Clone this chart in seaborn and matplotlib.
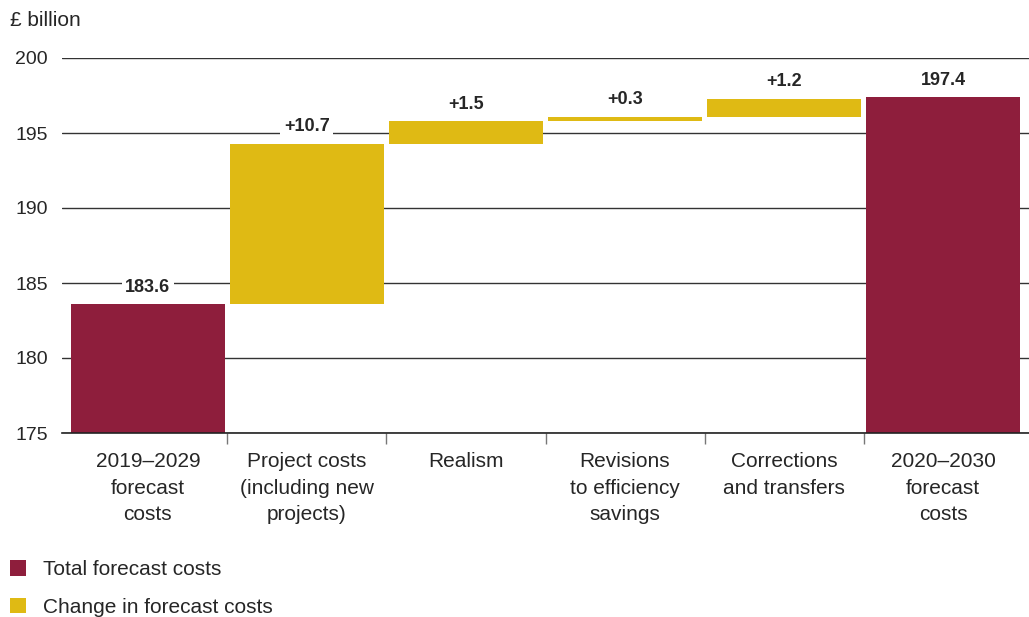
import matplotlib
matplotlib.use("Agg")
import matplotlib.pyplot as plt
from matplotlib.patches import Patch
from matplotlib.ticker import FixedLocator
import numpy as np
import pandas as pd
import seaborn as sns

# Waterfall data (£ billion)
categories = [
    "2019–2029\nforecast\ncosts",
    "Project costs\n(including new\nprojects)",
    "Realism",
    "Revisions\nto efficiency\nsavings",
    "Corrections\nand transfers",
    "2020–2030\nforecast\ncosts",
]
start_total = 183.6
changes = [10.7, 1.5, 0.3, 1.2]
end_total = 197.4
value_labels = ["183.6", "+10.7", "+1.5", "+0.3", "+1.2", "197.4"]
kinds = ["Total forecast costs"] + ["Change in forecast costs"] * 4 + ["Total forecast costs"]

# Build bar heights and bottoms from the running total
bottoms = [0.0]
heights = [start_total]
running = start_total
for c in changes:
    bottoms.append(running)
    heights.append(c)
    running += c
bottoms.append(0.0)
heights.append(end_total)

df = pd.DataFrame({
    "category": categories,
    "height": heights,
    "bottom": bottoms,
    "kind": kinds,
})

palette = {"Total forecast costs": "#8E1E3C", "Change in forecast costs": "#DFBA14"}
text_color = "#262626"

sns.set_theme(style="white")
plt.rcParams["font.family"] = ["Liberation Sans", "DejaVu Sans"]

fig = plt.figure(figsize=(10.29, 6.17), dpi=100)
ax = fig.add_axes([62 / 1029, 1 - 433 / 617, 1 - 62 / 1029, (433 - 58) / 617])

for kind, sub in df.groupby("kind", sort=False):
    sns.barplot(
        data=sub, x="category", y="height", order=categories,
        color=palette[kind], width=0.97, bottom=sub["bottom"].to_numpy(),
        saturation=1, ax=ax, zorder=3, linewidth=0,
    )

ax.set_ylim(175, 200)
ax.set_xlim(-0.54, 5.54)
ax.set_yticks([175, 180, 185, 190, 195, 200])
ax.yaxis.grid(True, color="#333333", linewidth=1.0, zorder=0)
ax.set_axisbelow(True)
for s in ["top", "right", "left"]:
    ax.spines[s].set_visible(False)
ax.spines["bottom"].set_color("#222222")
ax.spines["bottom"].set_linewidth(1.2)
ax.spines["bottom"].set_zorder(4)

ax.set_xlabel("")
ax.set_ylabel("")
ax.tick_params(axis="y", length=0, pad=10, labelsize=14, labelcolor=text_color)
ax.tick_params(axis="x", which="major", length=0, pad=14, labelsize=15, labelcolor=text_color)
ax.xaxis.set_minor_locator(FixedLocator(np.arange(0.5, 5, 1.0)))
ax.tick_params(axis="x", which="minor", bottom=True, length=8, width=1, color="#777777", direction="out")
for lbl in ax.get_xticklabels():
    lbl.set_linespacing(1.5)

# Value labels above each bar
for i, (b, h, t) in enumerate(zip(bottoms, heights, value_labels)):
    ax.annotate(
        t, xy=(i, b + h), xytext=(0, 6), textcoords="offset points",
        ha="center", va="bottom", fontsize=13, fontweight="bold", color=text_color,
        bbox=dict(boxstyle="square,pad=0.2", fc="white", ec="none"), zorder=5,
        annotation_clip=False,
    )

fig.text(10 / 1029, 1 - 20 / 617, "£ billion", fontsize=15, color=text_color, va="center", ha="left")

handles = [Patch(facecolor=palette[k], edgecolor="none", label=k)
           for k in ["Total forecast costs", "Change in forecast costs"]]
fig.legend(
    handles=handles, loc="upper left", bbox_to_anchor=(10 / 1029, 1 - 560 / 617),
    frameon=False, fontsize=15, handlelength=0.77, handleheight=0.77,
    handletextpad=0.82, labelspacing=0.9, borderpad=0, borderaxespad=0,
    labelcolor=text_color,
)

fig.savefig("out.png", dpi=100)
